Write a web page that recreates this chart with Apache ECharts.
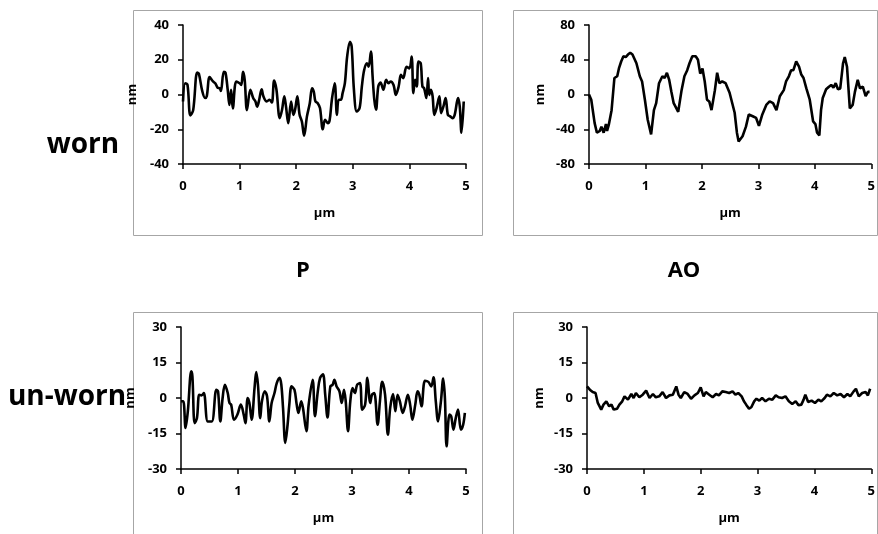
<!DOCTYPE html>
<html>
<head>
<meta charset="utf-8">
<script src="https://cdn.jsdelivr.net/npm/echarts@6/dist/echarts.min.js"></script>
<style>
html,body{margin:0;padding:0;background:#fff;}
#chart{width:878px;height:534px;}
</style>
</head>
<body>
<div id="chart"></div>
<script>
// ---- data (x in µm, y in nm) ----
var wornP = [[0,-4],[0.04,6.5],[0.08,5.5],[0.13,-12],[0.18,-9],[0.25,12.6],[0.28,12],[0.34,2],[0.39,-2],[0.42,-1],[0.47,10],[0.53,7.5],[0.57,6.5],[0.61,4],[0.65,3.5],[0.67,2],[0.72,13],[0.75,12.6],[0.79,2.7],[0.82,-6],[0.85,2.7],[0.88,-8],[0.94,7.5],[1.0,6.5],[1.03,5.5],[1.06,13],[1.09,8.4],[1.13,-9],[1.19,2.7],[1.24,-2],[1.28,-4],[1.31,-7],[1.34,-4],[1.39,3],[1.42,-1],[1.48,-4],[1.53,-3],[1.57,-4.6],[1.61,8],[1.65,3],[1.71,-13.6],[1.75,-8.8],[1.79,-1],[1.82,-7],[1.86,-16.5],[1.91,-4],[1.95,-11.7],[1.98,-8.8],[2.02,-1],[2.06,-11.7],[2.1,-15.5],[2.14,-23.7],[2.19,-12.6],[2.24,-5],[2.28,3.6],[2.31,1.7],[2.34,-4],[2.38,-5],[2.42,-7.8],[2.47,-20],[2.51,-14.5],[2.56,-16.5],[2.59,-15],[2.63,-3],[2.68,6.5],[2.72,-11.7],[2.75,-3],[2.79,-3],[2.82,0.8],[2.86,6.5],[2.9,21.8],[2.95,30.4],[2.98,27.6],[3.02,2.7],[3.07,-9.8],[3.12,-7.8],[3.16,4.6],[3.2,14],[3.25,18],[3.28,16],[3.32,24.7],[3.35,10.3],[3.38,-3],[3.41,-8.8],[3.45,4.6],[3.49,6.9],[3.54,2.7],[3.59,8.4],[3.63,6.5],[3.67,7.5],[3.72,5.5],[3.76,-0.2],[3.81,4.6],[3.85,11.3],[3.89,9.4],[3.95,16],[4.0,15],[4.04,21.8],[4.07,0.8],[4.1,8.4],[4.13,4.6],[4.16,19],[4.2,18],[4.23,4.6],[4.26,3.6],[4.3,-2],[4.33,9.4],[4.35,-0.2],[4.38,2.7],[4.41,-1],[4.44,-11.7],[4.48,-7.8],[4.53,-1],[4.56,-10.7],[4.6,-7],[4.64,-2],[4.68,-11.7],[4.72,-12.6],[4.76,-13.6],[4.8,-11.7],[4.86,-2],[4.89,-7],[4.92,-22],[4.96,-4]];

var wornAO = [[0,0],[0.04,-6],[0.1,-33],[0.14,-44],[0.19,-42],[0.22,-37],[0.26,-44],[0.3,-34],[0.32,-42],[0.35,-35],[0.4,-18],[0.45,19],[0.5,21],[0.53,30],[0.57,38],[0.61,44],[0.65,43],[0.69,46],[0.73,48],[0.77,46],[0.84,36],[0.9,21],[0.94,15],[0.99,-6],[1.04,-29],[1.1,-46],[1.15,-18],[1.19,-10],[1.24,13],[1.3,21],[1.34,19],[1.38,25],[1.42,17],[1.46,3],[1.5,-10],[1.58,-20],[1.64,5],[1.69,21],[1.74,28],[1.78,36],[1.83,44],[1.89,44],[1.93,40],[1.97,24],[2.01,30],[2.05,15],[2.09,-6],[2.13,-8],[2.17,-18],[2.23,5],[2.27,25],[2.31,13],[2.36,15],[2.42,13],[2.49,2],[2.58,-21],[2.62,-44],[2.65,-54],[2.72,-48],[2.78,-37],[2.83,-23],[2.9,-25],[2.96,-27],[3.01,-36],[3.07,-23],[3.14,-12],[3.2,-8],[3.26,-10],[3.32,-18],[3.38,-2],[3.45,5],[3.49,15],[3.54,21],[3.58,28],[3.62,28],[3.67,38],[3.72,32],[3.76,23],[3.8,19],[3.85,7],[3.91,-6],[3.97,-31],[4.01,-34],[4.04,-44],[4.08,-47],[4.11,-18],[4.14,-4],[4.2,6],[4.25,9],[4.29,11],[4.33,8],[4.37,13],[4.41,6],[4.45,7],[4.5,36],[4.53,43],[4.57,32],[4.62,-16],[4.67,-12],[4.71,3],[4.76,17],[4.8,7],[4.85,9],[4.9,-2],[4.94,3],[4.97,3]];

var unwornP = [[0,-1.4],[0.04,-1.4],[0.08,-12.7],[0.12,-5.6],[0.18,11.3],[0.2,9.2],[0.24,-10.6],[0.28,-8.5],[0.32,1.4],[0.36,1.1],[0.4,2.1],[0.47,-9.9],[0.54,-9.9],[0.62,3.5],[0.65,2.8],[0.69,-9.9],[0.73,0],[0.77,5.6],[0.82,2.1],[0.85,-2.1],[0.88,-2.8],[0.93,-9.2],[0.99,-7],[1.05,-2.8],[1.1,-7],[1.13,-10.6],[1.17,0],[1.2,-2.1],[1.24,-9.2],[1.29,4.2],[1.32,11],[1.35,5.6],[1.39,-8.5],[1.42,-1.4],[1.47,2.8],[1.51,0.7],[1.55,-9.9],[1.59,-2.1],[1.64,2.1],[1.68,6.3],[1.73,8.5],[1.76,5.6],[1.79,-4.2],[1.83,-19],[1.87,-11.3],[1.9,-2.8],[1.94,4.9],[1.99,3.5],[2.03,-2.8],[2.06,-6.3],[2.11,-1.4],[2.14,-4.2],[2.2,-14],[2.24,-2.8],[2.31,7.7],[2.35,-7.7],[2.4,2.8],[2.44,8.5],[2.49,10],[2.53,1.4],[2.57,-8.2],[2.62,4.9],[2.66,5.6],[2.69,7.7],[2.73,4.9],[2.78,2.8],[2.82,-2.1],[2.86,3.5],[2.89,-1.4],[2.93,-14],[2.97,-1.4],[3.01,4.2],[3.05,2.1],[3.09,5.6],[3.14,6.3],[3.18,-4.9],[3.23,-2.8],[3.27,8.5],[3.32,-2.1],[3.35,1.4],[3.39,2.1],[3.45,-11.3],[3.49,-1.4],[3.53,6.8],[3.58,1.4],[3.63,-15.5],[3.67,-4.2],[3.72,1.7],[3.76,-5.6],[3.8,1.4],[3.84,-1.4],[3.89,-6.3],[3.93,-3.5],[3.98,1.4],[4.02,-2.8],[4.06,-9.2],[4.11,-2.8],[4.15,2.8],[4.18,1.4],[4.22,-3.5],[4.28,7.3],[4.34,6.8],[4.39,4.9],[4.43,8.7],[4.47,-1.4],[4.51,-9.9],[4.56,-1.4],[4.6,8.2],[4.63,0],[4.66,-20.4],[4.71,-7],[4.74,-7.7],[4.78,-13.4],[4.82,-8.5],[4.86,-4.9],[4.91,-13.4],[4.95,-11.3],[4.98,-6.3]];

var unwornAO = [[0,4.9],[0.05,3.5],[0.1,2.5],[0.15,2.1],[0.19,-2.1],[0.25,-4.9],[0.29,-2.8],[0.34,-1.4],[0.39,-3.5],[0.43,-2.8],[0.47,-4.9],[0.53,-4.5],[0.57,-2.8],[0.62,-1.4],[0.66,0.7],[0.72,-0.7],[0.78,1.7],[0.82,0],[0.86,2.1],[0.92,0.3],[0.98,1.4],[1.04,3.1],[1.1,0],[1.16,1.7],[1.21,0.3],[1.27,0.7],[1.33,2.5],[1.39,0],[1.45,1.1],[1.51,1.4],[1.57,4.9],[1.61,1.4],[1.65,0],[1.71,2.5],[1.77,1.7],[1.83,-0.3],[1.89,1.1],[1.95,2.1],[2.0,4.5],[2.05,0.7],[2.09,2.5],[2.15,1.4],[2.21,0.3],[2.27,1.7],[2.32,1.1],[2.38,2.8],[2.44,2.5],[2.5,2.1],[2.56,2.8],[2.61,1.4],[2.66,2.1],[2.72,0.7],[2.76,-1.4],[2.8,-2.8],[2.85,-4.5],[2.89,-3.9],[2.94,-1.4],[2.98,-0.3],[3.03,-1.1],[3.08,0],[3.14,-1.4],[3.2,-0.3],[3.26,-0.7],[3.32,1.1],[3.37,0.3],[3.43,0],[3.49,0.7],[3.55,-1.4],[3.61,-2.5],[3.67,-1.4],[3.72,-3.1],[3.77,-2.8],[3.81,-0.7],[3.84,1.4],[3.89,-1.7],[3.95,-1.1],[4.01,-2.1],[4.07,-0.7],[4.12,-1.4],[4.18,0],[4.22,1.4],[4.28,0.7],[4.34,2.1],[4.4,1.1],[4.46,1.7],[4.52,0.3],[4.58,1.7],[4.63,0.7],[4.69,2.8],[4.73,3.9],[4.78,0.7],[4.84,2.1],[4.9,2.5],[4.94,1.1],[4.98,3.9]];

var xTicks = [0,1,2,3,4,5];
var rowLabels = ['worn','un-worn'];
var colLabels = ['P','AO'];
var yRanges = [[-40,40,20],[-80,80,40],[-30,30,15],[-30,30,15]];
var xName = 'µm';
var yName = 'nm';

// ---- chart ----
var FONT = '"Open Sans", "Liberation Sans", sans-serif';
var chart = echarts.init(document.getElementById('chart'), null, {renderer:'canvas'});

var grids = [
  {left:183, top:25, width:283, height:139},
  {left:589, top:25, width:283, height:139},
  {left:181, top:327, width:285, height:142},
  {left:587, top:327, width:286, height:142}
];
var datasets = [wornP, wornAO, unwornP, unwornAO];
var smooths = [0.35, false, 0.35, false];
var yNameGaps = [44, 42, 44, 41];

var axisLine = {show:true, onZero:false, lineStyle:{color:'#000', width:1.5}};
var labelStyle = {color:'#000', fontWeight:'bold', fontSize:13, fontFamily:FONT};

var xAxes = [], yAxes = [], series = [];
for (var i = 0; i < 4; i++) {
  xAxes.push({
    gridIndex:i, type:'value', min:xTicks[0], max:xTicks[xTicks.length-1], interval:1,
    axisLine:axisLine, splitLine:{show:false},
    axisTick:{show:true, length:5, inside:false, lineStyle:{color:'#000', width:1.5}},
    axisLabel:Object.assign({margin:16}, labelStyle),
    name:xName, nameLocation:'middle', nameGap:43,
    nameTextStyle:Object.assign({}, labelStyle)
  });
  yAxes.push({
    gridIndex:i, type:'value', min:yRanges[i][0], max:yRanges[i][1], interval:yRanges[i][2],
    axisLine:axisLine, splitLine:{show:false},
    axisTick:{show:true, length:5, inside:false, lineStyle:{color:'#000', width:1.5}},
    axisLabel:Object.assign({margin:14}, labelStyle),
    name:yName, nameLocation:'middle', nameGap:yNameGaps[i], nameRotate:90,
    nameTextStyle:Object.assign({}, labelStyle)
  });
  series.push({
    type:'line', xAxisIndex:i, yAxisIndex:i, data:datasets[i],
    showSymbol:false, smooth:smooths[i], animation:false,
    lineStyle:{color:'#000', width:2.6}
  });
}

var bigText = {fill:'#000', fontWeight:'bold', fontSize:22, fontFamily:FONT, textAlign:'center', textVerticalAlign:'middle'};
var rowText = Object.assign({}, bigText, {fontSize:28});
var graphics = [
  {type:'rect', shape:{x:133.5, y:10.5, width:349, height:225}, style:{fill:'none', stroke:'#a6a6a6', lineWidth:1}, silent:true},
  {type:'rect', shape:{x:513.5, y:10.5, width:364, height:225}, style:{fill:'none', stroke:'#a6a6a6', lineWidth:1}, silent:true},
  {type:'rect', shape:{x:133.5, y:312.5, width:349, height:240}, style:{fill:'none', stroke:'#a6a6a6', lineWidth:1}, silent:true},
  {type:'rect', shape:{x:513.5, y:312.5, width:364, height:240}, style:{fill:'none', stroke:'#a6a6a6', lineWidth:1}, silent:true},
  {type:'text', style:Object.assign({}, rowText, {x:83, y:145, text:rowLabels[0]})},
  {type:'text', style:Object.assign({}, rowText, {x:67, y:397, text:rowLabels[1]})},
  {type:'text', style:Object.assign({}, bigText, {x:303, y:271, text:colLabels[0]})},
  {type:'text', style:Object.assign({}, bigText, {x:684, y:271, text:colLabels[1]})}
];

chart.setOption({
  animation:false,
  backgroundColor:'#fff',
  grid:grids,
  xAxis:xAxes,
  yAxis:yAxes,
  series:series,
  graphic:graphics
});
</script>
</body>
</html>
